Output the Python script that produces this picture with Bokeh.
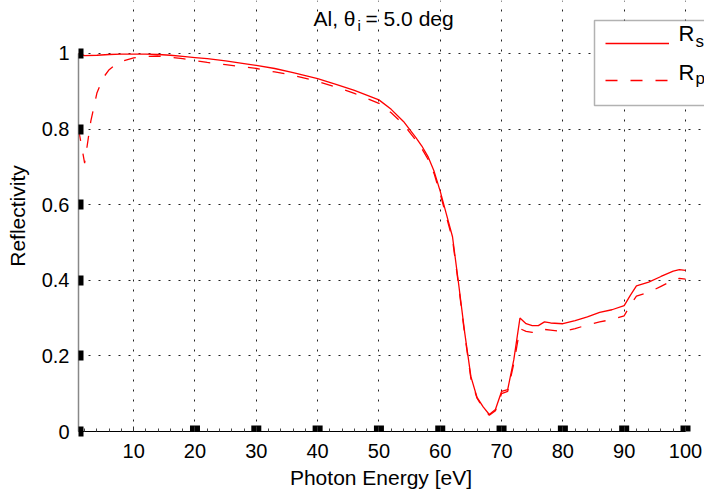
from bokeh.plotting import figure
from bokeh.models import FixedTicker, Range1d, Legend, LegendItem, Label, BoxAnnotation
from bokeh.embed import file_html
from bokeh.resources import INLINE

# ---- data ----
energy_s = [1, 2, 4, 6, 8, 10, 12, 14, 16, 18, 20, 22, 25, 28, 30, 33, 36, 40, 43, 46,
            50, 52, 54, 56, 57, 58, 59, 60, 61, 62, 63, 64, 65, 66, 67, 68, 69, 70, 71, 72,
            73, 74, 75, 76, 77, 78, 80, 82, 84, 86, 88, 90, 91, 92, 94, 96, 98, 99, 100]
refl_s = [1.000, 0.994, 0.995, 0.997, 0.998, 0.998, 0.998, 0.997, 0.995, 0.992,
          0.989, 0.986, 0.980, 0.973, 0.968, 0.960, 0.949, 0.933, 0.918, 0.902,
          0.877, 0.852, 0.820, 0.778, 0.755, 0.727, 0.688, 0.635, 0.575, 0.515,
          0.390, 0.260, 0.145, 0.090, 0.065, 0.045, 0.058, 0.106, 0.111, 0.190,
          0.300, 0.285, 0.280, 0.280, 0.290, 0.287, 0.285, 0.293, 0.303, 0.315,
          0.322, 0.333, 0.360, 0.385, 0.395, 0.410, 0.424, 0.428, 0.426]

energy_p = [1, 2, 3, 4, 5, 6, 7, 8, 10, 12, 14, 16, 18, 20, 22, 25, 28, 30, 33, 36,
            40, 43, 46, 50, 52, 54, 56, 57, 58, 59, 60, 61, 62, 63, 64, 65, 66, 67, 68, 69,
            70, 71, 72, 73, 74, 75, 76, 77, 78, 80, 82, 84, 86, 88, 90, 91, 92, 94, 96, 98,
            99, 100]
refl_p = [0.800, 0.710, 0.820, 0.895, 0.935, 0.957, 0.970, 0.979, 0.988, 0.992,
          0.993, 0.990, 0.986, 0.981, 0.976, 0.970, 0.964, 0.960, 0.951, 0.942,
          0.926, 0.911, 0.894, 0.868, 0.843, 0.812, 0.771, 0.748, 0.720, 0.682,
          0.628, 0.568, 0.508, 0.385, 0.255, 0.140, 0.088, 0.062, 0.043, 0.055,
          0.100, 0.106, 0.180, 0.272, 0.265, 0.262, 0.262, 0.270, 0.268, 0.264,
          0.272, 0.282, 0.290, 0.296, 0.306, 0.335, 0.358, 0.368, 0.384, 0.400,
          0.405, 0.403]

x_ticks = [10, 20, 30, 40, 50, 60, 70, 80, 90, 100]
x_square_ticks = [20, 30, 40, 50, 60, 70, 80, 90, 100]
x_minor_ticks = [2, 4, 6, 8] + [v for v in range(12, 100, 2) if v % 10 != 0]
y_ticks = [0, 0.2, 0.4, 0.6, 0.8, 1.0]
y_tick_labels = ["0", "0.2", "0.4", "0.6", "0.8", "1"]

FONT = "Liberation Sans"

# layout: data area spans pixels 78..685 (x = 1..100) and 432..53 (y = 0..1);
# the frame is stretched to the top/right edges so title & legend can sit in it.
W, H = 704, 491
LEFT, RIGHT_DATA, BOTTOM, TOP_DATA = 78, 685, 432, 53
x_end = 1 + 99 * (W - LEFT) / (RIGHT_DATA - LEFT)
y_end = 1.0 * BOTTOM / (BOTTOM - TOP_DATA)

p = figure(width=W, height=H, output_backend="svg", toolbar_location=None,
           x_range=Range1d(1, x_end), y_range=Range1d(0, y_end),
           min_border_left=LEFT, min_border_right=0, min_border_top=0,
           min_border_bottom=H - BOTTOM)
p.title.text = ""
p.title.visible = False
p.outline_line_color = None
p.background_fill_color = "white"
p.border_fill_color = "white"

# dotted grid
p.xgrid.ticker = FixedTicker(ticks=x_ticks)
p.ygrid.ticker = FixedTicker(ticks=y_ticks[1:])
p.xgrid.bounds = (0, 1)
p.ygrid.bounds = (1, 100)
for g in (p.xgrid[0], p.ygrid[0]):
    g.grid_line_color = "#222222"
    g.grid_line_dash = "2 8"
    g.grid_line_width = 1

# curves
r_s = p.line(energy_s, refl_s, line_color="#ff0000", line_width=1.3)
r_p = p.line(energy_p, refl_p, line_color="#ff0000", line_width=1.3, line_dash="12 13")

# heavy square tick marks on the x axis (20..100)
p.rect(x=x_square_ticks, y=[0] * len(x_square_ticks), width=10, height=12,
       width_units="screen", height_units="screen",
       fill_color="black", line_color=None)

# x axis
xa = p.xaxis[0]
xa.bounds = (1, 100)
xa.ticker = FixedTicker(ticks=x_ticks, minor_ticks=x_minor_ticks)
xa.axis_line_color = "black"
xa.axis_line_width = 1
xa.major_tick_in = 5
xa.major_tick_out = 0
xa.major_tick_line_width = 1
xa.major_tick_line_color = "#333333"
xa.minor_tick_in = 3
xa.minor_tick_out = 0
xa.minor_tick_line_color = "#444444"
xa.major_label_text_font = FONT
xa.major_label_text_font_size = "20px"
xa.major_label_text_color = "black"
xa.major_label_standoff = 12
# em-space keeps the label centred under the data area rather than the frame
xa.axis_label = "Photon Energy [eV]\u2003"
xa.axis_label_text_font = FONT
xa.axis_label_text_font_size = "21px"
xa.axis_label_text_font_style = "normal"
xa.axis_label_text_color = "black"
xa.axis_label_standoff = 5

# y axis
ya = p.yaxis[0]
ya.bounds = (0, 1)
ya.ticker = FixedTicker(ticks=y_ticks, minor_ticks=[])
ya.major_label_overrides = {t: s for t, s in zip(y_ticks, y_tick_labels)}
ya.axis_line_color = "#888888"
ya.axis_line_width = 1.5
ya.major_tick_in = 5
ya.major_tick_out = 0
ya.major_tick_line_width = 10
ya.major_tick_line_color = "black"
ya.minor_tick_line_color = None
ya.major_label_text_font = FONT
ya.major_label_text_font_size = "20px"
ya.major_label_text_color = "black"
ya.major_label_standoff = 9
ya.axis_label = "Reflectivity"
ya.axis_label_text_font = FONT
ya.axis_label_text_font_size = "21px"
ya.axis_label_text_font_style = "normal"
ya.axis_label_text_color = "black"
ya.axis_label_standoff = 10

# text placed in screen units, relative to the frame's bottom-left corner
def tlabel(x, y, text, size):
    return Label(x=x, y=y, x_units="screen", y_units="screen", text=text,
                 text_align="left", text_baseline="alphabetic", text_font=FONT,
                 text_font_size=size, text_color="black", level="overlay")

# title with subscript
p.add_layout(tlabel(235, 413, "Al, θ", "21px"))
p.add_layout(tlabel(279, 406, "i", "15px"))
p.add_layout(tlabel(287, 413, "= 5.0 deg", "21px"))

# legend box (runs past the right edge of the picture, as in the reference)
p.add_layout(BoxAnnotation(left=516, right=720, bottom=326, top=411,
                           left_units="screen", right_units="screen",
                           bottom_units="screen", top_units="screen",
                           fill_color="white", fill_alpha=1.0,
                           line_color="black", line_width=1.5, level="annotation"))

# legend samples (transparent legend; entry texts drawn separately for subscripts)
legend = Legend(items=[LegendItem(label=" ", renderers=[r_s]),
                       LegendItem(label=" ", renderers=[r_p])],
                location=(527, 336), orientation="vertical",
                border_line_color=None, background_fill_alpha=0.0,
                label_text_font=FONT, label_text_font_size="22px",
                label_text_color="black",
                padding=7, spacing=7, glyph_height=30, glyph_width=64,
                label_standoff=10, label_width=40, margin=0)
p.add_layout(legend)

p.add_layout(tlabel(600, 398, "R", "22px"))
p.add_layout(tlabel(617, 390, "s", "17px"))
p.add_layout(tlabel(600, 359, "R", "22px"))
p.add_layout(tlabel(617, 353, "p", "17px"))

open("out.html", "w").write(file_html(p, INLINE))
